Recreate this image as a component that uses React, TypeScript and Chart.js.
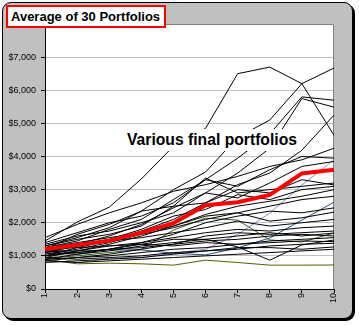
import React, { useEffect, useRef } from "react";
import { Chart, registerables } from "chart.js";

Chart.register(...registerables);

// ---- data ----
const categories = ["1", "2", "3", "4", "5", "6", "7", "8", "9", "10"];
const averageValues = [1210, 1330, 1460, 1700, 1990, 2530, 2620, 2840, 3490, 3600];

const portfolio1 = [1450, 2020, 2470, 3320, 4310, 4850, 6500, 6700, 6200, 4640];
const portfolio2 = [1300, 1550, 1850, 2350, 3000, 3530, 4580, 5100, 6200, 6670];
const portfolio3 = [1250, 1450, 1800, 2100, 2700, 3300, 3950, 4680, 5800, 5700];
const portfolio4 = [1150, 1350, 1600, 1950, 2450, 2900, 3500, 4250, 5750, 5490];
const portfolio5 = [1000, 1250, 1450, 1750, 2100, 2600, 3150, 3500, 4190, 5250];
const portfolio6 = [1550, 1950, 2300, 2600, 2950, 3150, 3400, 3700, 3900, 4250];
const portfolio7 = [1400, 1700, 2000, 2200, 2600, 3300, 3100, 3600, 4000, 3950];
const portfolio8 = [1350, 1600, 1750, 2000, 2300, 2900, 2750, 3200, 3700, 3850];
const portfolio9 = [1200, 1650, 1950, 2350, 2500, 3350, 2900, 3000, 3100, 3200];
const portfolio10 = [1300, 1500, 1650, 1900, 2500, 2600, 3000, 2900, 3300, 3140];
const portfolio11 = [1100, 1300, 1500, 1800, 2200, 2400, 2850, 2700, 3000, 3100];
const portfolio12 = [950, 1150, 1350, 1600, 1900, 2250, 2500, 2650, 2800, 3000];
const portfolio13 = [1050, 1200, 1400, 1650, 1850, 2100, 2300, 2500, 2700, 2800];
const portfolio14 = [900, 1050, 1200, 1400, 1650, 2000, 2200, 2350, 2300, 2450];
const portfolio15 = [1250, 1400, 1550, 1700, 1900, 2200, 2300, 2050, 2150, 2320];
const portfolio16 = [1100, 1300, 1450, 1550, 1700, 1850, 2050, 1900, 2000, 2100];
const portfolio17 = [1000, 1150, 1300, 1400, 1550, 1700, 1800, 1750, 1850, 1900];
const portfolio18 = [850, 950, 1050, 1200, 1350, 1600, 1700, 1650, 1700, 1750];
const portfolio19 = [1150, 1100, 1200, 1350, 1500, 1500, 1600, 1700, 1600, 1690];
const portfolio20 = [1000, 1100, 1200, 1250, 1350, 1450, 1500, 1600, 1650, 1600];
const portfolio21 = [1200, 1250, 1300, 1350, 1300, 1400, 1350, 1450, 1500, 1550];
const portfolio22 = [1100, 1050, 1150, 1300, 1400, 1500, 1270, 870, 1330, 1480];
const portfolio23 = [900, 950, 1000, 1100, 1200, 1250, 1350, 1400, 1450, 1430];
const portfolio24 = [800, 850, 900, 950, 1050, 1150, 1200, 1300, 1350, 1380];
const portfolio25 = [950, 900, 950, 1000, 1100, 1150, 1250, 1250, 1200, 1270];
const portfolio26 = [850, 800, 850, 900, 950, 1000, 1050, 1100, 1150, 1200];
const portfolio27 = [1180, 1150, 1180, 1180, 1080, 1030, 1240, 1540, 2080, 2620];
const portfolio28 = [1080, 780, 930, 950, 1080, 1200, 1650, 2290, 3140, 3900];
const portfolio29 = [930, 1000, 1100, 1200, 1780, 2140, 2080, 1480, 1420, 1690];
const portfolio30 = [900, 760, 780, 760, 720, 870, 800, 720, 720, 725];

const portfolios = [
  portfolio1, portfolio2, portfolio3, portfolio4, portfolio5, portfolio6,
  portfolio7, portfolio8, portfolio9, portfolio10, portfolio11, portfolio12,
  portfolio13, portfolio14, portfolio15, portfolio16, portfolio17, portfolio18,
  portfolio19, portfolio20, portfolio21, portfolio22, portfolio23, portfolio24,
  portfolio25, portfolio26, portfolio27, portfolio28, portfolio29, portfolio30,
];

const specialColors: Record<number, string> = {
  26: "#1F4E79",
  27: "#8A8AC0",
  28: "#2E5E1E",
  29: "#5A5A00",
};

const yTickValues = [0, 1000, 2000, 3000, 4000, 5000, 6000, 7000];

const FONT = "'Liberation Sans', Arial, sans-serif";

const plotFrame = {
  id: "plotFrame",
  beforeDraw(chart: any) {
    const { ctx, chartArea } = chart;
    const { left, top, right, bottom } = chartArea;
    ctx.save();
    ctx.fillStyle = "#FFFFFF";
    ctx.fillRect(left, top, right - left, bottom - top);
    ctx.restore();
  },
  beforeDatasetsDraw(chart: any) {
    const { ctx, chartArea } = chart;
    const { left, top, right, bottom } = chartArea;
    ctx.save();
    ctx.strokeStyle = "#808080";
    ctx.lineWidth = 1;
    ctx.beginPath();
    ctx.moveTo(left, top + 0.5);
    ctx.lineTo(right - 0.5, top + 0.5);
    ctx.lineTo(right - 0.5, bottom);
    ctx.stroke();
    ctx.restore();
  },
};

export default function App() {
  const canvasRef = useRef<HTMLCanvasElement | null>(null);

  useEffect(() => {
    if (!canvasRef.current) return;
    const datasets: any[] = [
      {
        label: "Average",
        data: averageValues,
        borderColor: "#FF0000",
        borderWidth: 4,
        pointRadius: 0,
        tension: 0,
        order: 0,
      },
      ...portfolios.map((p, i) => ({
        label: "Portfolio " + (i + 1),
        data: p,
        borderColor: specialColors[i] || "#000000",
        borderWidth: 1,
        pointRadius: 0,
        tension: 0,
        order: 1,
      })),
    ];

    const chart = new Chart(canvasRef.current, {
      type: "line",
      data: { labels: categories, datasets },
      plugins: [plotFrame],
      options: {
        animation: false,
        responsive: false,
        devicePixelRatio: 1,
        layout: { padding: { left: 0, top: 24, right: 25, bottom: 0 } },
        plugins: {
          legend: { display: false },
          tooltip: { enabled: false },
          title: { display: false },
        },
        scales: {
          x: {
            offset: false,
            afterFit: (s: any) => {
              s.height = 36;
            },
            grid: {
              drawOnChartArea: false,
              drawTicks: true,
              tickLength: 4,
              tickColor: "#000000",
            },
            border: { display: true, color: "#000000", width: 1 },
            ticks: {
              autoSkip: false,
              maxRotation: 90,
              minRotation: 90,
              padding: 0,
              color: "#000000",
              font: { family: FONT, size: 9 },
            },
          },
          y: {
            min: 0,
            max: 8000,
            afterFit: (s: any) => {
              s.width = 45;
            },
            afterBuildTicks: (s: any) => {
              s.ticks = [...yTickValues, 8000].map((v) => ({ value: v }));
            },
            grid: {
              color: (c: any) =>
                c.tick && c.tick.value === 8000 ? "rgba(0,0,0,0)" : c.tick && c.tick.value === 0 ? "rgba(0,0,0,0)" : "#C0C0C0",
              tickColor: (c: any) =>
                c.tick && c.tick.value === 8000 ? "rgba(0,0,0,0)" : "#000000",
              tickLength: 4,
              lineWidth: 1,
            },
            border: { display: true, color: "#000000", width: 1 },
            ticks: {
              padding: 5,
              color: "#000000",
              font: { family: FONT, size: 9 },
              callback: (v: any) =>
                Number(v) === 8000 ? "" : "$" + Number(v).toLocaleString("en-US"),
            },
          },
        },
      },
    });
    return () => chart.destroy();
  }, []);

  return (
    <div
      style={{
        position: "absolute",
        left: 0,
        top: 0,
        width: 359,
        height: 325,
        background: "#FFFFFF",
        overflow: "hidden",
      }}
    >
      <div
        style={{
          position: "absolute",
          left: 2,
          top: 2,
          width: 351,
          height: 317,
          boxSizing: "border-box",
          background: "#C0C0C0",
          border: "1px solid #000000",
          borderRadius: 9,
          boxShadow: "2px 2px 0 #000000",
        }}
      />
      <canvas
        ref={canvasRef}
        width={359}
        height={325}
        style={{ position: "absolute", left: 0, top: 0, width: 359, height: 325 }}
      />
      <div
        style={{
          position: "absolute",
          left: 6,
          top: 5,
          width: 160,
          height: 23,
          boxSizing: "border-box",
          border: "2px solid #FF0000",
          background: "#FFFFFF",
          paddingLeft: 3,
          fontFamily: FONT,
          fontWeight: "bold",
          fontSize: 13,
          lineHeight: "19px",
          color: "#000000",
          whiteSpace: "nowrap",
        }}
      >
        Average of 30 Portfolios
      </div>
      <div
        style={{
          position: "absolute",
          left: 123,
          top: 129,
          height: 22,
          paddingLeft: 4,
          paddingRight: 4,
          background: "#FFFFFF",
          fontFamily: FONT,
          fontWeight: "bold",
          fontSize: 15.7,
          lineHeight: "22px",
          color: "#000000",
          whiteSpace: "nowrap",
        }}
      >
        Various final portfolios
      </div>
    </div>
  );
}
